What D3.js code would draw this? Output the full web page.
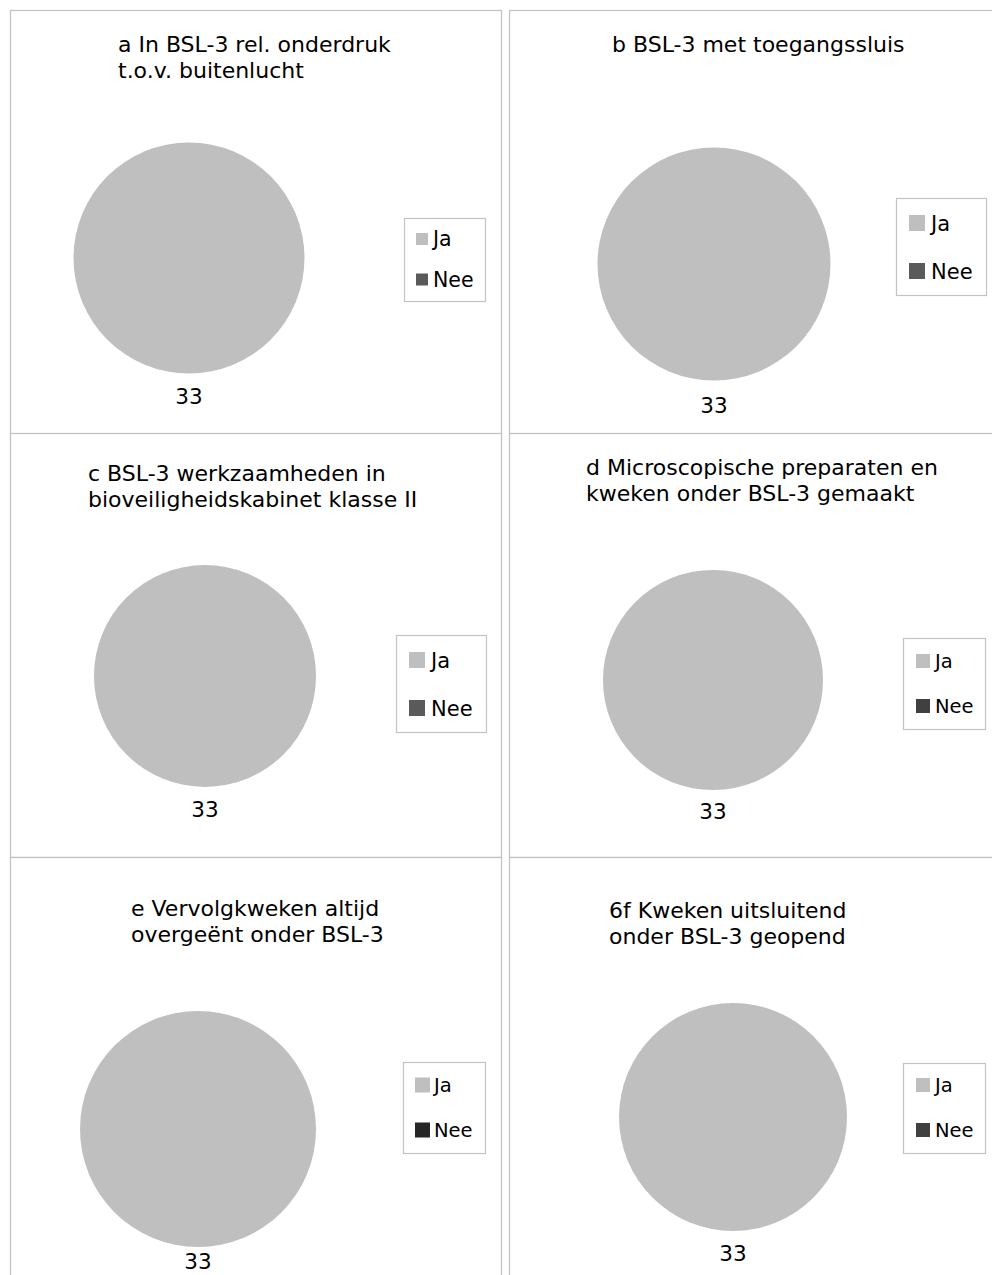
<!DOCTYPE html>
<html>
<head>
<meta charset="utf-8">
<script src="https://cdn.jsdelivr.net/npm/d3@7"></script>
<style>
  html, body { margin: 0; padding: 0; background: #fff; }
  svg { display: block; }
  text { font-family: "DejaVu Sans", Verdana, sans-serif; fill: #000; }
</style>
</head>
<body>
<div class="chart"></div>
<script>
// Data
const titles = [
    ["a In BSL-3 rel. onderdruk", "t.o.v. buitenlucht"],
    ["b BSL-3 met toegangssluis"],
    ["c BSL-3 werkzaamheden in", "bioveiligheidskabinet klasse II"],
    ["d Microscopische preparaten en", "kweken onder BSL-3 gemaakt"],
    ["e Vervolgkweken altijd", "overgeënt onder BSL-3"],
    ["6f Kweken uitsluitend", "onder BSL-3 geopend"]
];
const categories = ["Ja", "Nee"];
const jaValues  = [33, 33, 33, 33, 33, 33];
const neeValues = [0, 0, 0, 0, 0, 0];
const neeColors = ["#5a5a5a", "#5a5a5a", "#5a5a5a", "#404040", "#262626", "#404040"];
const jaColor = "#bfbfbf";

// Layout per panel (frame, pie, title, legend)
const layout = [
    { fx: 10,  fy: 10,  cx: 189, cy: 258,  r: 115.5, tx: 118, ty: 52,  lab: 146, lx: 404, ly: 218,  lw: 81, lh: 83, sq: 12, sx: 416, lt: 433, l0: 239,  gap: 40.5, lfs: 20.5 },
    { fx: 509, fy: 10,  cx: 714, cy: 264,  r: 116.5, tx: 612, ty: 52,  lab: 149, lx: 896, ly: 198,  lw: 90, lh: 97, sq: 16, sx: 909, lt: 931, l0: 223,  gap: 48,   lfs: 21 },
    { fx: 10,  fy: 433, cx: 205, cy: 676,  r: 111,   tx: 88,  ty: 481, lab: 141, lx: 396, ly: 635,  lw: 90, lh: 97, sq: 16, sx: 409, lt: 431, l0: 660,  gap: 48,   lfs: 21 },
    { fx: 509, fy: 433, cx: 713, cy: 680,  r: 110,   tx: 586, ty: 475, lab: 139, lx: 903, ly: 638,  lw: 82, lh: 91, sq: 14, sx: 916, lt: 935, l0: 661,  gap: 45,   lfs: 19.5 },
    { fx: 10,  fy: 857, cx: 198, cy: 1129, r: 118,   tx: 131, ty: 916, lab: 140, lx: 403, ly: 1062, lw: 82, lh: 91, sq: 15, sx: 415, lt: 434, l0: 1085, gap: 45,   lfs: 19.5 },
    { fx: 509, fy: 857, cx: 733, cy: 1117, r: 114,   tx: 609, ty: 918, lab: 144, lx: 903, ly: 1063, lw: 82, lh: 90, sq: 14, sx: 916, lt: 935, l0: 1085, gap: 45,   lfs: 19.5 }
];

const W = 992, H = 1275;
const panelW = 491, panelH = 424;

const svg = d3.select(".chart").append("svg")
    .attr("width", W)
    .attr("height", H);

const pie = d3.pie().sort(null).value(d => d.value);

titles.forEach((t, i) => {
    const L = layout[i];
    const g = svg.append("g");
    const color = d3.scaleOrdinal().domain(categories).range([jaColor, neeColors[i]]);

    // frame
    g.append("rect")
        .attr("x", L.fx + 0.5)
        .attr("y", L.fy + 0.5)
        .attr("width", panelW)
        .attr("height", panelH)
        .attr("fill", "#fff")
        .attr("stroke", "#c3c3c3")
        .attr("stroke-width", 1.3);

    // title
    const title = g.append("text")
        .attr("x", L.tx)
        .attr("y", L.ty)
        .style("font-size", "22px");
    t.forEach((line, k) => {
        title.append("tspan")
            .attr("x", L.tx)
            .attr("dy", k === 0 ? 0 : 25.5)
            .text(line);
    });

    // pie
    const data = [
        { name: "Ja",  value: jaValues[i] },
        { name: "Nee", value: neeValues[i] }
    ];
    const arcs = pie(data);
    const arc = d3.arc().innerRadius(0).outerRadius(L.r);
    const labelArc = d3.arc().innerRadius(L.lab - 8).outerRadius(L.lab - 8);

    const pg = g.append("g").attr("transform", "translate(" + L.cx + "," + L.cy + ")");
    pg.selectAll("path")
        .data(arcs.filter(d => d.value > 0))
        .enter().append("path")
        .attr("d", arc)
        .attr("fill", d => color(d.data.name));

    pg.selectAll(".lbl")
        .data(arcs.filter(d => d.value > 0))
        .enter().append("text")
        .attr("class", "lbl")
        .attr("transform", d => "translate(" + labelArc.centroid(d) + ")")
        .attr("text-anchor", "middle")
        .attr("dominant-baseline", "central")
        .style("font-size", "21.5px")
        .text(d => d.value);

    // legend
    g.append("rect")
        .attr("x", L.lx + 0.5)
        .attr("y", L.ly + 0.5)
        .attr("width", L.lw)
        .attr("height", L.lh)
        .attr("fill", "#fff")
        .attr("stroke", "#c3c3c3")
        .attr("stroke-width", 1.2);

    const legend = g.selectAll(".legend")
        .data(categories)
        .enter().append("g")
        .attr("class", "legend")
        .attr("transform", (d, k) => "translate(0," + (L.l0 + k * L.gap) + ")");

    legend.append("rect")
        .attr("x", L.sx)
        .attr("y", -L.sq / 2)
        .attr("width", L.sq)
        .attr("height", L.sq)
        .attr("fill", d => color(d));

    legend.append("text")
        .attr("x", L.lt)
        .attr("y", 0)
        .attr("dy", "0.36em")
        .style("font-size", L.lfs + "px")
        .text(d => d);
});
</script>
</body>
</html>
